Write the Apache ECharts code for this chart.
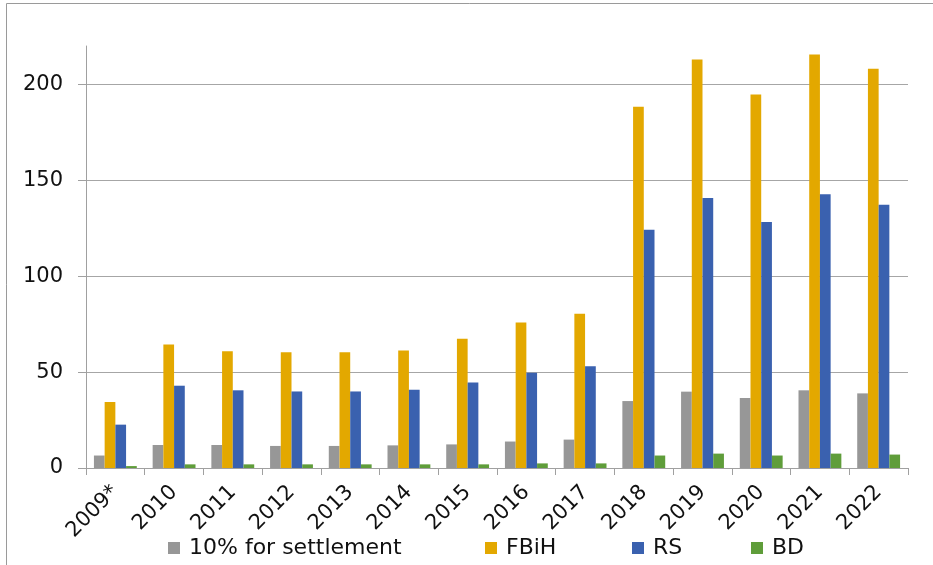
<!DOCTYPE html>
<html>
<head>
<meta charset="utf-8">
<script src="https://cdn.jsdelivr.net/npm/echarts@6/dist/echarts.min.js"></script>
<style>
  html, body { margin: 0; padding: 0; background: #fff; }
  #chart { width: 933px; height: 565px; }
</style>
</head>
<body>
<div id="chart"></div>
<script>
// Years shown on the category axis
const years = ['2009*', '2010', '2011', '2012', '2013', '2014', '2015', '2016',
               '2017', '2018', '2019', '2020', '2021', '2022'];

// Amounts per beneficiary
const settlement = [6.5, 12.0, 12.0, 11.5, 11.5, 11.8, 12.3, 13.8, 14.8, 34.9, 39.8, 36.5, 40.5, 38.9];
const fbih       = [34.4, 64.4, 60.8, 60.3, 60.3, 61.3, 67.4, 75.9, 80.4, 188.3, 213.0, 194.7, 215.6, 208.2];
const rs         = [22.6, 42.9, 40.5, 39.9, 39.9, 40.8, 44.6, 49.6, 53.1, 124.2, 140.8, 128.3, 142.7, 137.3];
const bd         = [1.0, 1.9, 1.9, 1.9, 1.9, 1.9, 1.9, 2.4, 2.4, 6.5, 7.5, 6.5, 7.5, 7.0];

// Value axis ticks
const yTicks = [0, 50, 100, 150, 200];
const yMax = 220;

const seriesNames = ['10% for settlement', 'FBiH', 'RS', 'BD'];
const seriesColors = ['#979797', '#E3A800', '#3A61AF', '#5F9D3A'];
const seriesData = [settlement, fbih, rs, bd];

// Legend entries sit in fixed columns along the bottom
const legendLeft = [168, 485, 632, 751];

const FONT = 'DejaVu Sans';
const chart = echarts.init(document.getElementById('chart'));

chart.setOption({
  animation: false,
  backgroundColor: '#ffffff',
  textStyle: { fontFamily: FONT },
  grid: { left: 86, right: 25, top: 46, bottom: 97, containLabel: false },
  legend: seriesNames.map((name, i) => ({
    left: legendLeft[i],
    top: 537,
    itemWidth: 12,
    itemHeight: 12,
    icon: 'rect',
    padding: 0,
    textStyle: { fontFamily: FONT, fontSize: 22, color: '#111', padding: [0, 0, 0, 4] },
    data: [name]
  })),
  xAxis: {
    type: 'category',
    data: years,
    axisLine: { lineStyle: { color: '#a0a0a0', width: 1 } },
    axisTick: { show: true, length: 7, lineStyle: { color: '#a0a0a0' } },
    axisLabel: {
      rotate: 45,
      margin: 21,
      interval: 0,
      fontFamily: FONT,
      fontSize: 21,
      color: '#111'
    }
  },
  yAxis: {
    type: 'value',
    min: 0,
    max: yMax,
    interval: 50,
    axisLine: { show: true, lineStyle: { color: '#a0a0a0', width: 1 } },
    axisTick: { show: true, length: 8, customValues: yTicks, lineStyle: { color: '#a0a0a0' } },
    axisLabel: {
      customValues: yTicks,
      margin: 23,
      fontFamily: FONT,
      fontSize: 21,
      color: '#111'
    },
    splitLine: { show: true, lineStyle: { color: '#a6a6a6', width: 1 } }
  },
  graphic: [
    {
      type: 'polyline',
      silent: true,
      shape: { points: [[6.5, 565], [6.5, 3.5], [933, 3.5]] },
      style: { stroke: '#9a9a9a', lineWidth: 1, fill: null }
    }
  ],
  series: seriesNames.map((name, i) => ({
    name: name,
    type: 'bar',
    data: seriesData[i],
    barGap: '0%',
    barCategoryGap: '27%',
    itemStyle: { color: seriesColors[i] }
  }))
});
</script>
</body>
</html>
